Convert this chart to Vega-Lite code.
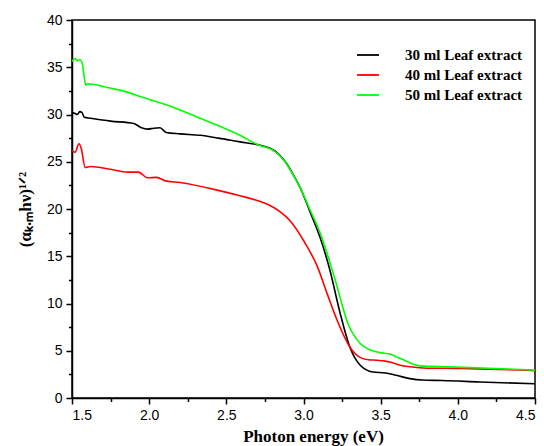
{
  "$schema": "https://vega.github.io/schema/vega-lite/v6.json",
  "width": 463,
  "height": 378,
  "autosize": "none",
  "padding": {"left": 72, "top": 20, "right": 9, "bottom": 48},
  "background": "white",
  "config": {
    "view": {"stroke": "black", "strokeWidth": 1.5},
    "axis": {
      "domainColor": "black", "domainWidth": 1.5, "tickColor": "black", "tickWidth": 1.5,
      "labelFont": "Liberation Sans", "labelFontSize": 14, "labelColor": "black",
      "titleFont": "Liberation Serif", "titleFontWeight": "bold", "titleFontSize": 17, "titleColor": "black",
      "grid": false
    }
  },
  "data": {"values": [
    {"s":"30 ml Leaf extract","x":1.50,"y":30.2},{"s":"30 ml Leaf extract","x":1.52,"y":30.1},{"s":"30 ml Leaf extract","x":1.535,"y":30.0},{"s":"30 ml Leaf extract","x":1.55,"y":30.3},{"s":"30 ml Leaf extract","x":1.565,"y":30.2},{"s":"30 ml Leaf extract","x":1.58,"y":29.7},{"s":"30 ml Leaf extract","x":1.62,"y":29.6},{"s":"30 ml Leaf extract","x":1.75,"y":29.3},{"s":"30 ml Leaf extract","x":1.90,"y":29.05},{"s":"30 ml Leaf extract","x":1.95,"y":28.6},{"s":"30 ml Leaf extract","x":1.99,"y":28.45},{"s":"30 ml Leaf extract","x":2.03,"y":28.55},{"s":"30 ml Leaf extract","x":2.07,"y":28.6},{"s":"30 ml Leaf extract","x":2.11,"y":28.1},{"s":"30 ml Leaf extract","x":2.2,"y":27.95},{"s":"30 ml Leaf extract","x":2.33,"y":27.8},{"s":"30 ml Leaf extract","x":2.45,"y":27.5},{"s":"30 ml Leaf extract","x":2.59,"y":27.1},{"s":"30 ml Leaf extract","x":2.72,"y":26.75},{"s":"30 ml Leaf extract","x":2.78,"y":26.45},{"s":"30 ml Leaf extract","x":2.83,"y":25.95},{"s":"30 ml Leaf extract","x":2.88,"y":25.05},{"s":"30 ml Leaf extract","x":2.93,"y":23.75},{"s":"30 ml Leaf extract","x":2.98,"y":22.2},{"s":"30 ml Leaf extract","x":3.04,"y":19.8},{"s":"30 ml Leaf extract","x":3.107,"y":17.0},{"s":"30 ml Leaf extract","x":3.17,"y":13.6},{"s":"30 ml Leaf extract","x":3.237,"y":9.0},{"s":"30 ml Leaf extract","x":3.30,"y":5.4},{"s":"30 ml Leaf extract","x":3.366,"y":3.5},{"s":"30 ml Leaf extract","x":3.45,"y":2.75},{"s":"30 ml Leaf extract","x":3.53,"y":2.65},{"s":"30 ml Leaf extract","x":3.6,"y":2.4},{"s":"30 ml Leaf extract","x":3.69,"y":2.05},{"s":"30 ml Leaf extract","x":3.77,"y":1.9},{"s":"30 ml Leaf extract","x":3.9,"y":1.85},{"s":"30 ml Leaf extract","x":4.14,"y":1.7},{"s":"30 ml Leaf extract","x":4.5,"y":1.5},
    {"s":"40 ml Leaf extract","x":1.50,"y":26.2},{"s":"40 ml Leaf extract","x":1.52,"y":26.0},{"s":"40 ml Leaf extract","x":1.545,"y":26.9},{"s":"40 ml Leaf extract","x":1.56,"y":26.4},{"s":"40 ml Leaf extract","x":1.585,"y":24.4},{"s":"40 ml Leaf extract","x":1.62,"y":24.5},{"s":"40 ml Leaf extract","x":1.75,"y":24.2},{"s":"40 ml Leaf extract","x":1.86,"y":23.9},{"s":"40 ml Leaf extract","x":1.93,"y":23.9},{"s":"40 ml Leaf extract","x":1.99,"y":23.3},{"s":"40 ml Leaf extract","x":2.05,"y":23.35},{"s":"40 ml Leaf extract","x":2.10,"y":23.0},{"s":"40 ml Leaf extract","x":2.2,"y":22.8},{"s":"40 ml Leaf extract","x":2.44,"y":22.0},{"s":"40 ml Leaf extract","x":2.589,"y":21.4},{"s":"40 ml Leaf extract","x":2.70,"y":20.9},{"s":"40 ml Leaf extract","x":2.78,"y":20.4},{"s":"40 ml Leaf extract","x":2.85,"y":19.7},{"s":"40 ml Leaf extract","x":2.91,"y":18.8},{"s":"40 ml Leaf extract","x":3.01,"y":16.4},{"s":"40 ml Leaf extract","x":3.09,"y":13.9},{"s":"40 ml Leaf extract","x":3.152,"y":11.1},{"s":"40 ml Leaf extract","x":3.217,"y":8.25},{"s":"40 ml Leaf extract","x":3.30,"y":5.4},{"s":"40 ml Leaf extract","x":3.366,"y":4.3},{"s":"40 ml Leaf extract","x":3.42,"y":4.05},{"s":"40 ml Leaf extract","x":3.476,"y":4.0},{"s":"40 ml Leaf extract","x":3.53,"y":3.9},{"s":"40 ml Leaf extract","x":3.56,"y":3.8},{"s":"40 ml Leaf extract","x":3.62,"y":3.5},{"s":"40 ml Leaf extract","x":3.69,"y":3.3},{"s":"40 ml Leaf extract","x":3.8,"y":3.15},{"s":"40 ml Leaf extract","x":3.93,"y":3.15},{"s":"40 ml Leaf extract","x":4.2,"y":3.05},{"s":"40 ml Leaf extract","x":4.5,"y":2.9},
    {"s":"50 ml Leaf extract","x":1.50,"y":35.6},{"s":"50 ml Leaf extract","x":1.52,"y":35.95},{"s":"50 ml Leaf extract","x":1.535,"y":35.7},{"s":"50 ml Leaf extract","x":1.55,"y":35.8},{"s":"50 ml Leaf extract","x":1.565,"y":35.5},{"s":"50 ml Leaf extract","x":1.59,"y":33.1},{"s":"50 ml Leaf extract","x":1.60,"y":33.25},{"s":"50 ml Leaf extract","x":1.746,"y":32.8},{"s":"50 ml Leaf extract","x":1.83,"y":32.5},{"s":"50 ml Leaf extract","x":1.96,"y":31.8},{"s":"50 ml Leaf extract","x":2.135,"y":30.9},{"s":"50 ml Leaf extract","x":2.33,"y":29.6},{"s":"50 ml Leaf extract","x":2.45,"y":28.8},{"s":"50 ml Leaf extract","x":2.588,"y":27.8},{"s":"50 ml Leaf extract","x":2.72,"y":26.7},{"s":"50 ml Leaf extract","x":2.78,"y":26.4},{"s":"50 ml Leaf extract","x":2.83,"y":25.9},{"s":"50 ml Leaf extract","x":2.88,"y":25.0},{"s":"50 ml Leaf extract","x":2.93,"y":23.7},{"s":"50 ml Leaf extract","x":2.98,"y":22.2},{"s":"50 ml Leaf extract","x":3.04,"y":20.0},{"s":"50 ml Leaf extract","x":3.107,"y":17.5},{"s":"50 ml Leaf extract","x":3.2,"y":12.8},{"s":"50 ml Leaf extract","x":3.29,"y":7.8},{"s":"50 ml Leaf extract","x":3.366,"y":5.8},{"s":"50 ml Leaf extract","x":3.43,"y":5.1},{"s":"50 ml Leaf extract","x":3.496,"y":4.8},{"s":"50 ml Leaf extract","x":3.56,"y":4.65},{"s":"50 ml Leaf extract","x":3.625,"y":4.2},{"s":"50 ml Leaf extract","x":3.755,"y":3.4},{"s":"50 ml Leaf extract","x":3.93,"y":3.3},{"s":"50 ml Leaf extract","x":4.2,"y":3.15},{"s":"50 ml Leaf extract","x":4.5,"y":2.95}
  ]},
  "mark": {"type": "line", "strokeWidth": 1.6, "interpolate": "monotone", "clip": true},
  "encoding": {
    "x": {
      "field": "x", "type": "quantitative",
      "scale": {"domain": [1.5, 4.5], "nice": false, "zero": false},
      "axis": {
        "title": "Photon energy (eV)", "titleX": 241, "titleY": 43, "titleBaseline": "alphabetic",
        "values": [1.5,1.75,2.0,2.25,2.5,2.75,3.0,3.25,3.5,3.75,4.0,4.25,4.5],
        "labelExpr": "(round(datum.value*100) % 50 == 0) ? format(datum.value, '.1f') : ''",
        "tickSize": {"condition": {"test": "round(datum.value*100) % 50 == 0", "value": 6}, "value": 3.5},
        "labelPadding": 4
      }
    },
    "y": {
      "field": "y", "type": "quantitative",
      "scale": {"domain": [0, 40], "nice": false},
      "axis": {
        "title": "(α\u2096.\u2098hν)\u00B9\u141F\u00B2", "titlePadding": 12,
        "values": [0,2.5,5,7.5,10,12.5,15,17.5,20,22.5,25,27.5,30,32.5,35,37.5,40],
        "labelExpr": "(datum.value % 5 == 0) ? format(datum.value, 'd') : ''",
        "tickSize": {"condition": {"test": "datum.value % 5 == 0", "value": 6}, "value": 3.5},
        "labelPadding": 4
      }
    },
    "color": {
      "field": "s", "type": "nominal",
      "scale": {"domain": ["30 ml Leaf extract","40 ml Leaf extract","50 ml Leaf extract"], "range": ["#000000","#ff0000","#00ff00"]},
      "legend": {
        "title": null, "orient": "none", "legendX": 284, "legendY": 23, "padding": 0,
        "symbolType": "stroke", "symbolSize": 484, "symbolStrokeWidth": 1.8,
        "labelFont": "Liberation Serif", "labelFontWeight": "bold", "labelFontSize": 15, "labelColor": "black",
        "labelOffset": 25, "rowPadding": -3
      }
    }
  }
}
